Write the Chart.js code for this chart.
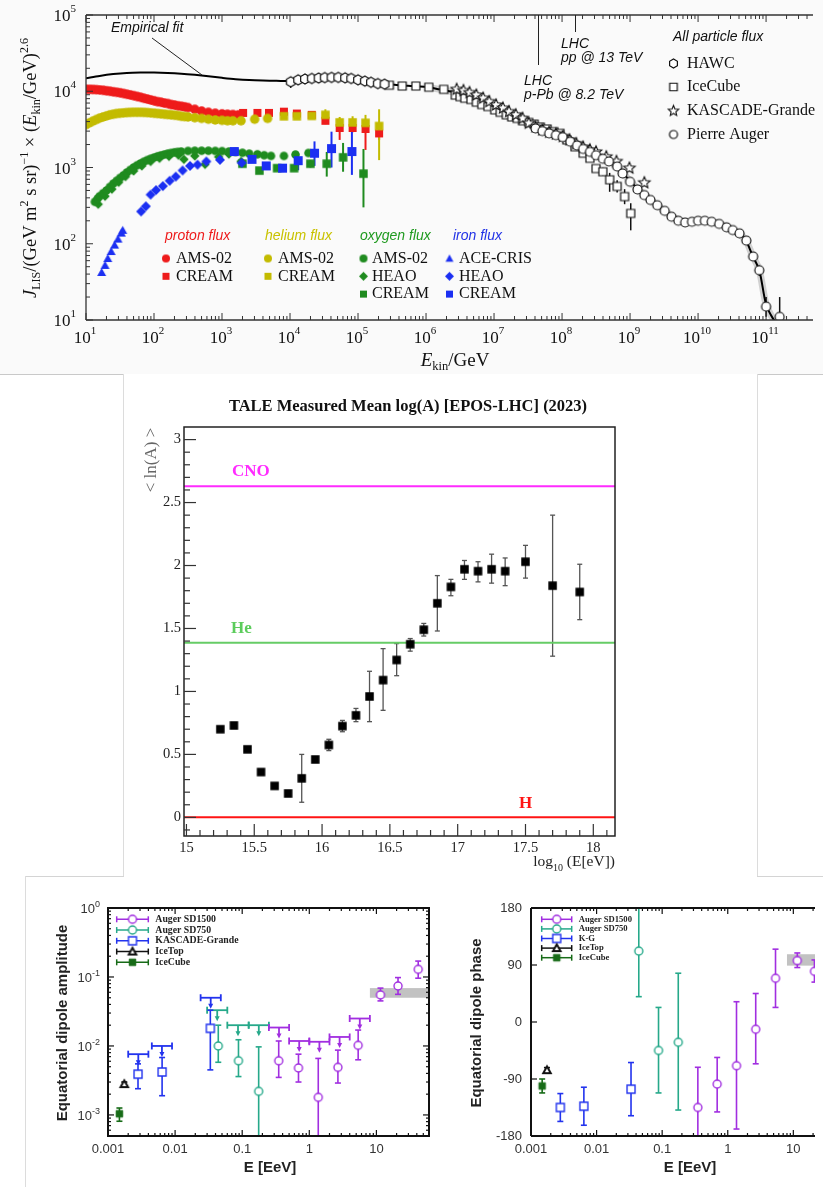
<!DOCTYPE html>
<html>
<head>
<meta charset="utf-8">
<title>Cosmic ray flux, composition and dipole</title>
<script src="https://cdn.jsdelivr.net/npm/chart.js@4.4.0/dist/chart.umd.min.js"></script>
<style>
  body { margin: 0; width: 823px; height: 1187px; position: relative; overflow: hidden; background: #fff; }
  canvas { position: absolute; }
  .rule { position: absolute; background: #c9c9c9; }
</style>
</head>
<body>
<canvas id="flux" width="823" height="374" style="left:0;top:0"></canvas>
<canvas id="tale" width="633" height="501" style="left:124px;top:375px"></canvas>
<canvas id="amp" width="411" height="310" style="left:26px;top:877px"></canvas>
<canvas id="phase" width="386" height="310" style="left:437px;top:877px"></canvas>
<div class="rule" style="left:0;top:374px;width:124px;height:1px"></div>
<div class="rule" style="left:123px;top:374px;width:1px;height:503px;background:#dcdcdc"></div>
<div class="rule" style="left:757px;top:374px;width:66px;height:1px"></div>
<div class="rule" style="left:757px;top:374px;width:1px;height:503px;background:#dcdcdc"></div>
<div class="rule" style="left:25px;top:876px;width:99px;height:1px;background:#d4d4d4"></div>
<div class="rule" style="left:25px;top:876px;width:1px;height:311px;background:#dcdcdc"></div>
<div class="rule" style="left:757px;top:876px;width:66px;height:1px;background:#d4d4d4"></div>
<script>
// ---------- top panel: all particle and LIS fluxes, [log10 E/GeV, flux*E^2.6, lo, hi] ----------
const fitCurve = [[1.0,14.8e3],[1.2,15.9e3],[1.4,16.8e3],[1.6,17.4e3],[1.8,17.6e3],[2.0,17.6e3],[2.2,17.4e3],[2.4,17.0e3],[2.6,16.4e3],[2.8,15.7e3],[3.0,15.0e3],[3.2,14.4e3],[3.4,14.0e3],[3.6,13.8e3],[3.8,13.7e3],[4.0,13.6e3],[4.2,14.3e3],[4.4,14.9e3],[4.6,15.1e3],[4.8,15.0e3],[5.0,14.2e3],[5.2,13.2e3],[5.4,12.5e3],[5.6,12.0e3],[5.8,11.7e3],[6.0,11.4e3],[6.2,10.6e3],[6.4,9.8e3],[6.6,8.7e3],[6.8,7.6e3],[7.0,6.4e3],[7.2,5.4e3],[7.4,4.5e3],[7.6,3.5e3],[7.8,3.0e3],[8.0,2.6e3],[8.2,2.05e3],[8.4,1.65e3],[8.6,1.35e3],[8.8,1.05e3],[9.0,660],[9.2,445],[9.4,320],[9.6,235],[9.8,195],[10.0,198],[10.2,196],[10.4,172],[10.5,152],[10.6,136],[10.7,112],[10.8,70],[10.9,45],[11.0,16],[11.1,10.5],[11.2,8]];
const hawcFlux = [[4.01,13.3e3,11.0e3,14.6e3],[4.12,14.1e3,13.0e3,15.2e3],[4.22,14.5e3,13.6e3,15.5e3],[4.32,14.7e3,13.8e3,15.7e3],[4.42,14.9e3,14.0e3,15.9e3],[4.51,15.1e3,14.2e3,16.1e3],[4.61,15.2e3,14.3e3,16.2e3],[4.71,15.2e3,14.3e3,16.2e3],[4.81,15.0e3,14.0e3,16.1e3],[4.90,14.7e3,13.7e3,15.8e3],[5.00,14.1e3,13.1e3,15.2e3],[5.10,13.6e3,12.6e3,14.7e3],[5.19,13.1e3,12.0e3,14.3e3],[5.29,12.6e3,11.4e3,13.9e3],[5.39,12.4e3,11.0e3,13.9e3]];
const iceCubeFlux = [[5.46,12.0e3],[5.65,11.7e3],[5.85,11.7e3],[6.04,11.3e3],[6.26,10.6e3],[6.43,8.9e3],[6.50,8.5e3],[6.57,8.1e3],[6.66,7.8e3],[6.74,7.2e3],[6.82,6.7e3],[6.91,6.3e3],[7.01,5.7e3],[7.09,5.3e3],[7.18,4.9e3],[7.26,4.6e3],[7.34,4.4e3],[7.42,4.1e3],[7.51,3.9e3],[7.59,3.7e3],[7.68,3.4e3],[7.78,3.2e3],[7.88,2.95e3],[7.97,2.8e3],[8.07,2.3e3],[8.19,1.87e3],[8.31,1.54e3],[8.41,1.32e3],[8.50,970,880,1080],[8.60,880,780,990],[8.70,690,480,850],[8.81,565,470,680],[8.92,415,330,520],[9.01,250,150,340]];
const kascadeFlux = [[6.45,10.6e3],[6.55,10.2e3],[6.64,9.6e3],[6.74,8.9e3],[6.84,8.1e3],[6.93,7.3e3],[7.03,6.6e3],[7.13,6.0e3],[7.22,5.4e3],[7.32,4.9e3],[7.42,4.4e3],[7.51,3.8e3],[7.61,3.4e3],[7.71,3.1e3],[7.81,2.9e3],[7.91,2.75e3],[8.01,2.55e3],[8.11,2.3e3],[8.21,2.05e3],[8.31,1.85e3],[8.41,1.7e3],[8.50,1.6e3],[8.65,1.38e3],[8.80,1.2e3],[8.99,980],[9.21,630]];
const augerFlux = [[7.61,3.25e3],[7.71,3.0e3],[7.81,2.8e3],[7.91,2.65e3],[8.01,2.5e3],[8.12,2.18e3],[8.22,1.94e3],[8.31,1.75e3],[8.41,1.6e3],[8.50,1.45e3],[8.60,1.3e3],[8.69,1.2e3],[8.81,1.03e3],[8.89,835],[9.00,650],[9.11,515],[9.21,435],[9.30,375],[9.40,320],[9.51,270],[9.61,226],[9.71,200],[9.81,190],[9.91,194],[10.0,200],[10.1,200],[10.2,194],[10.31,182],[10.42,164],[10.51,151],[10.61,137],[10.71,110],[10.81,68,60,76],[10.90,45,38,52],[11.0,15,11,20],[11.2,11,8,20]];
const protonAms = [[1.00,10.6e3],[1.05,10.6e3],[1.10,10.55e3],[1.15,10.5e3],[1.20,10.4e3],[1.25,10.3e3],[1.30,10.15e3],[1.35,10.0e3],[1.40,9.85e3],[1.45,9.7e3],[1.50,9.55e3],[1.55,9.35e3],[1.60,9.15e3],[1.65,8.95e3],[1.70,8.75e3],[1.75,8.55e3],[1.80,8.35e3],[1.85,8.1e3],[1.90,7.9e3],[1.95,7.7e3],[2.00,7.5e3],[2.05,7.3e3],[2.10,7.2e3],[2.15,7.0e3],[2.20,6.9e3],[2.25,6.7e3],[2.30,6.6e3],[2.35,6.45e3],[2.40,6.35e3],[2.45,6.25e3],[2.50,6.1e3],[2.60,5.8e3],[2.70,5.5e3],[2.80,5.3e3],[2.90,5.15e3],[3.00,5.05e3],[3.08,5.0e3],[3.16,4.95e3],[3.24,4.9e3]];
const protonCream = [[3.31,5.2e3],[3.52,5.2e3],[3.69,5.2e3],[3.91,5.4e3],[4.10,5.1e3],[4.32,4.9e3],[4.52,4.1e3,3.7e3,4.6e3],[4.73,3.3e3,2.3e3,3.9e3],[4.92,3.3e3,2.9e3,3.8e3],[5.11,3.2e3,1.7e3,3.8e3],[5.31,2.8e3,2.3e3,3.3e3]];
const heliumAms = [[1.00,3.65e3],[1.05,3.85e3],[1.10,4.05e3],[1.15,4.25e3],[1.20,4.45e3],[1.25,4.6e3],[1.30,4.75e3],[1.35,4.9e3],[1.40,5.0e3],[1.45,5.1e3],[1.50,5.15e3],[1.55,5.2e3],[1.60,5.25e3],[1.65,5.28e3],[1.70,5.3e3],[1.75,5.3e3],[1.80,5.3e3],[1.85,5.28e3],[1.90,5.25e3],[1.95,5.2e3],[2.00,5.15e3],[2.05,5.1e3],[2.10,5.05e3],[2.15,5.0e3],[2.20,4.95e3],[2.25,4.9e3],[2.30,4.85e3],[2.35,4.8e3],[2.40,4.7e3],[2.45,4.65e3],[2.50,4.6e3],[2.60,4.5e3],[2.70,4.4e3],[2.80,4.3e3],[2.90,4.2e3],[3.00,4.15e3],[3.08,4.1e3],[3.16,4.1e3],[3.28,4.1e3],[3.48,4.3e3],[3.67,4.4e3]];
const heliumCream = [[3.91,4.7e3],[4.10,4.7e3],[4.32,4.75e3],[4.52,4.9e3,4.0e3,5.8e3],[4.73,3.9e3,3.3e3,4.6e3],[4.92,3.9e3,3.3e3,4.7e3],[5.11,3.85e3,3.0e3,4.9e3],[5.31,3.5e3,1.25e3,5.8e3]];
const oxygenAms = [[1.13,355],[1.17,390],[1.20,420],[1.25,460],[1.30,500],[1.35,555],[1.40,615],[1.45,670],[1.50,730],[1.55,790],[1.60,860],[1.65,930],[1.70,1000],[1.75,1070],[1.80,1130],[1.85,1190],[1.90,1250],[1.95,1300],[2.00,1350],[2.05,1400],[2.10,1440],[2.15,1480],[2.20,1520],[2.25,1550],[2.30,1580],[2.35,1600],[2.40,1620],[2.50,1650],[2.60,1660],[2.70,1660],[2.80,1660],[2.90,1650],[3.00,1640],[3.10,1620],[3.20,1600],[3.30,1560],[3.40,1520],[3.52,1490],[3.62,1450],[3.72,1420],[3.91,1420],[4.08,1480],[4.27,1550]];
const oxygenHeao = [[1.18,330],[1.28,420],[1.38,520],[1.48,640],[1.58,760],[1.70,900],[1.82,1050],[1.95,1200],[2.08,1320],[2.22,1400],[2.36,1450],[2.44,1280],[2.60,1420],[2.75,1100],[2.95,1380],[3.10,1500],[3.28,1200]];
const oxygenCream = [[3.30,1120],[3.55,910],[3.81,980],[4.06,980,900,1080],[4.30,1120,1000,1250],[4.54,1120,760,1600],[4.78,1360,880,2100],[5.08,830,300,1750]];
const ironAce = [[1.23,42],[1.28,52],[1.32,64],[1.37,79],[1.42,96],[1.47,115],[1.52,138],[1.54,150]];
const ironHeao = [[1.81,265],[1.88,310],[1.95,440],[2.03,505],[2.13,570],[2.23,670],[2.32,760],[2.42,915],[2.53,1050],[2.64,1090],[2.77,1200],[2.97,1260],[3.29,1150]];
const ironCream = [[3.18,1620],[3.44,1280],[3.65,1050],[3.89,980,870,1100],[4.12,1230,920,1550],[4.36,1540,1050,2200],[4.61,1770,1000,2950],[4.91,1620,800,3100]];
const fluxXDecades = [1,2,3,4,5,6,7,8,9,10,11];
const fluxYDecades = [1,2,3,4,5];

// ---------- middle panel: TALE <ln A> ----------
const taleLogE = [15.25,15.35,15.45,15.55,15.65,15.75,15.85,15.95,16.05,16.15,16.25,16.35,16.45,16.55,16.65,16.75,16.85,16.95,17.05,17.15,17.25,17.35,17.5,17.7,17.9];
const taleLnA  = [0.70,0.73,0.54,0.36,0.25,0.19,0.31,0.46,0.575,0.725,0.81,0.96,1.09,1.25,1.375,1.49,1.70,1.83,1.97,1.955,1.97,1.955,2.03,1.84,1.79];
const taleLo   = [null,null,null,null,null,null,0.12,null,0.53,0.68,0.76,0.76,0.85,1.125,1.32,1.44,1.48,1.76,1.89,1.87,1.86,1.84,1.90,1.28,1.57];
const taleHi   = [null,null,null,null,null,null,0.50,null,0.62,0.77,0.865,1.16,1.34,1.38,1.42,1.54,1.92,1.89,2.04,2.03,2.09,2.06,2.16,2.40,2.01];
const massLines = [['CNO', 2.63], ['He', 1.386], ['H', 0]];
const taleXTicks = [15, 15.5, 16, 16.5, 17, 17.5, 18];
const taleYTicks = [0, 0.5, 1, 1.5, 2, 2.5, 3];

// ---------- bottom panels: equatorial dipole, E in EeV ----------
const sd1500E  = [0.35, 0.69, 1.36, 2.67, 5.35, 11.5, 21, 42];
const sd1500A  = [0.0061, 0.0048, 0.0018, 0.0049, 0.0102, 0.055, 0.074, 0.129];
const sd1500ALo = [0.0035, 0.0030, 0.0003, 0.0029, 0.0063, 0.045, 0.056, 0.096];
const sd1500AHi = [0.0118, 0.0076, 0.0066, 0.0087, 0.017, 0.069, 0.098, 0.17];
const sd1500P  = [-135, -98, -69, -11.5, 69, 97, 80, 80];
const sd1500PLo = [-200, -142, -169, -66, 23, 86, 63, 63];
const sd1500PHi = [-71.5, -56, 32, 45, 115, 109, 98, 98];
const sd1500Bins = [[0.25, 0.5], [0.5, 1], [1, 2], [2, 4], [4, 8]];
const sd1500UL = [0.0185, 0.0118, 0.0115, 0.0135, 0.025];
const sd750E   = [0.044, 0.088, 0.176];
const sd750A   = [0.010, 0.0061, 0.0022];
const sd750ALo = [0.0058, 0.0036, 0.0003];
const sd750AHi = [0.020, 0.0123, 0.0097];
const sd750P   = [112, -45, -32];
const sd750PLo = [40, -112, -139];
const sd750PHi = [200, 23, 77];
const sd750Bins = [[0.03, 0.06], [0.06, 0.125], [0.125, 0.25]];
const sd750UL  = [0.033, 0.020, 0.020];
const kgE      = [0.0028, 0.0064, 0.0335];
const kgA      = [0.0039, 0.0042, 0.018];
const kgALo    = [0.0024, 0.0019, 0.0045];
const kgAHi    = [0.0055, 0.0068, 0.033];
const kgP      = [-135, -133, -106];
const kgPLo    = [-157, -163, -148];
const kgPHi    = [-113, -103, -64];
const kgBins   = [[0.002, 0.004], [0.0045, 0.009], [0.024, 0.048]];
const kgUL     = [0.0076, 0.0100, 0.050];
const iceTopE = [0.00175], iceTopA = [0.0028], iceTopALo = [0.0026], iceTopAHi = [0.0030];
const iceTopP = [-76], iceTopPLo = [-80], iceTopPHi = [-72];
const iceCubeE = [0.00148], iceCubeA = [0.00104], iceCubeALo = [0.00081], iceCubeAHi = [0.00126];
const iceCubeP = [-101], iceCubePLo = [-112], iceCubePHi = [-90];
const ampBand = [8, 1000, 0.050, 0.069];
const phaseBand = [8, 1000, 89, 107];
const eTicks = [0.001, 0.01, 0.1, 1, 10];
const eTickText = ['0.001', '0.01', '0.1', '1', '10'];
const ampYDecades = [0, -1, -2, -3];
const phaseYTicks = [-180, -90, 0, 90, 180];

const SERIF = '"Liberation Serif","Times New Roman",serif';
const SANS = '"Liberation Sans",Arial,sans-serif';
const RED = '#ee1b1b', OLIVE = '#c3bb00', GREEN = '#1f8b1f', BLUE = '#1b2ff2';
const PURPLE = '#a12ee0', TEAL = '#26a98a', KBLUE = '#2233ee', DGREEN = '#176b17';

// small canvas images used as point styles and legend symbols
function mk(shape, s, fill, stroke, lw) {
  const c = document.createElement('canvas');
  const pad = Math.ceil(lw || 0) + 1;
  c.width = c.height = Math.ceil(s + 2 * pad);
  const g = c.getContext('2d'), m = c.width / 2, r = s / 2;
  g.beginPath();
  if (shape === 'circle') g.arc(m, m, r, 0, 2 * Math.PI);
  else if (shape === 'square') g.rect(m - r, m - r, s, s);
  else if (shape === 'diamond') { g.moveTo(m, m - r); g.lineTo(m + r, m); g.lineTo(m, m + r); g.lineTo(m - r, m); g.closePath(); }
  else if (shape === 'triangle') { g.moveTo(m, m - r); g.lineTo(m + r, m + r * 0.8); g.lineTo(m - r, m + r * 0.8); g.closePath(); }
  else if (shape === 'hex') { for (let i = 0; i < 6; i++) { const t = Math.PI / 6 + i * Math.PI / 3; g.lineTo(m + r * Math.cos(t), m + r * Math.sin(t)); } g.closePath(); }
  else if (shape === 'star') { for (let i = 0; i < 10; i++) { const t = -Math.PI / 2 + i * Math.PI / 5, rr = i % 2 ? r * 0.45 : r; g.lineTo(m + rr * Math.cos(t), m + rr * Math.sin(t)); } g.closePath(); }
  if (fill) { g.fillStyle = fill; g.fill(); }
  if (stroke) { g.strokeStyle = stroke; g.lineWidth = lw; g.stroke(); }
  return c;
}

function seg(g, x1, y1, x2, y2) { g.beginPath(); g.moveTo(x1, y1); g.lineTo(x2, y2); g.stroke(); }
function txt(g, s, x, y, font, color, align, base) {
  g.font = font; g.fillStyle = color; g.textAlign = align || 'left'; g.textBaseline = base || 'middle'; g.fillText(s, x, y);
}
// parts: [text, font, dy]
function rich(g, parts, x, y, align, color) {
  let w = 0;
  parts.forEach(p => { g.font = p[1]; w += g.measureText(p[0]).width; });
  let cx = align === 'center' ? x - w / 2 : align === 'right' ? x - w : x;
  g.textAlign = 'left'; g.textBaseline = 'alphabetic'; g.fillStyle = color || '#111';
  parts.forEach(p => { g.font = p[1]; g.fillText(p[0], cx, y + (p[2] || 0)); cx += g.measureText(p[0]).width; });
}
function logTicks(g, sc, a, maj, min, sides) {
  const horiz = sc.isHorizontal();
  const e0 = Math.floor(Math.log10(sc.min)), e1 = Math.ceil(Math.log10(sc.max));
  for (let e = e0; e <= e1; e++) for (let m = 1; m <= 9; m++) {
    const v = m * Math.pow(10, e);
    if (v < sc.min * 0.9999 || v > sc.max * 1.0001) continue;
    const p = sc.getPixelForValue(v), L = m === 1 ? maj : min;
    if (horiz) {
      if (sides.includes('b')) seg(g, p, a.bottom, p, a.bottom - L);
      if (sides.includes('t')) seg(g, p, a.top, p, a.top + L);
    } else {
      if (sides.includes('l')) seg(g, a.left, p, a.left + L, p);
      if (sides.includes('r')) seg(g, a.right, p, a.right - L, p);
    }
  }
}
function axis(type, min, max, size, vertical) {
  return {
    type, min, max, bounds: 'data',
    grid: { display: false }, border: { display: false }, ticks: { display: false },
    afterFit: s => { if (vertical) s.width = size; else s.height = size; }
  };
}
function marks(data, img, extra) {
  return Object.assign({ data, pointStyle: img, pointRadius: img.width / 2, pointHoverRadius: img.width / 2, showLine: false }, extra || {});
}
function logSeries(arr) { return arr.map(p => ({ x: Math.pow(10, p[0]), y: p[1], lo: p[2], hi: p[3] })); }
function zipSeries(xs, ys, lo, hi) { return xs.map((x, i) => ({ x, y: ys[i], lo: lo ? lo[i] : null, hi: hi ? hi[i] : null })); }
function limits(bins, vals) { return bins.map((b, i) => ({ x: Math.sqrt(b[0] * b[1]), y: vals[i], xlo: b[0], xhi: b[1] })); }
function stack(sets) { sets.forEach((d, i) => { d.order = sets.length - i; }); return sets; }

// error bars, upper limits and shaded bands, drawn under the markers
function errorBars(bands) {
  return {
    id: 'errorBars',
    beforeDatasetsDraw(chart) {
      const g = chart.ctx, a = chart.chartArea, X = chart.scales.x, Y = chart.scales.y;
      g.save();
      g.beginPath(); g.rect(a.left, a.top, a.right - a.left, a.bottom - a.top); g.clip();
      bands.forEach(b => {
        const x1 = X.getPixelForValue(b[0]), x2 = X.getPixelForValue(Math.min(b[1], X.max));
        const y1 = Y.getPixelForValue(b[2]), y2 = Y.getPixelForValue(b[3]);
        g.fillStyle = '#c2c2c2'; g.fillRect(x1, Math.min(y1, y2), x2 - x1, Math.abs(y2 - y1));
      });
      chart.data.datasets.forEach(d => {
        if (!d.errColor) return;
        g.strokeStyle = d.errColor; g.fillStyle = d.errColor; g.lineWidth = d.errWidth || 1.5;
        const cap = d.cap || 0;
        d.data.forEach(p => {
          const x = X.getPixelForValue(p.x);
          if (p.lo != null && p.hi != null) {
            const y1 = Y.getPixelForValue(p.lo), y2 = Y.getPixelForValue(p.hi);
            seg(g, x, y1, x, y2);
            if (cap) { seg(g, x - cap, y1, x + cap, y1); seg(g, x - cap, y2, x + cap, y2); }
          }
          if (p.xlo != null) {
            const y = Y.getPixelForValue(p.y), x1 = X.getPixelForValue(p.xlo), x2 = X.getPixelForValue(p.xhi);
            seg(g, x1, y, x2, y); seg(g, x1, y - 3.5, x1, y + 3.5); seg(g, x2, y - 3.5, x2, y + 3.5);
            seg(g, x, y, x, y + 8);
            g.beginPath(); g.moveTo(x - 2.5, y + 6); g.lineTo(x + 2.5, y + 6); g.lineTo(x, y + 11); g.closePath(); g.fill();
          }
        });
      });
      g.restore();
    }
  };
}

// ================= top panel =================
const M = {
  hawc: mk('hex', 10, '#fff', '#111', 1.2), iceCube: mk('square', 8, '#fff', '#111', 1.2),
  kascade: mk('star', 12, '#fff', '#111', 1.1), auger: mk('circle', 9, '#fff', '#111', 1.2),
  pAms: mk('circle', 9.5, RED), pCream: mk('square', 8, RED),
  heAms: mk('circle', 9.5, OLIVE), heCream: mk('square', 8.5, OLIVE),
  oAms: mk('circle', 8.5, GREEN), oHeao: mk('diamond', 9.5, GREEN), oCream: mk('square', 8.5, GREEN),
  feAce: mk('triangle', 9, BLUE), feHeao: mk('diamond', 10, BLUE), feCream: mk('square', 9, BLUE)
};
const L = {
  hawc: mk('hex', 9, '#fff', '#111', 1.2), iceCube: mk('square', 7.5, '#fff', '#111', 1.2),
  kascade: mk('star', 11, '#fff', '#111', 1.1), auger: mk('circle', 8, '#fff', '#111', 1.2),
  pAms: mk('circle', 8, RED), pCream: mk('square', 7, RED),
  heAms: mk('circle', 8, OLIVE), heCream: mk('square', 7, OLIVE),
  oAms: mk('circle', 8, GREEN), oHeao: mk('diamond', 9, GREEN), oCream: mk('square', 7, GREEN),
  feAce: mk('triangle', 8, BLUE), feHeao: mk('diamond', 9, BLUE), feCream: mk('square', 7, BLUE)
};

const fluxSets = stack([
  { data: logSeries(fitCurve.filter(p => p[0] >= 6)), showLine: true, pointRadius: 0, borderColor: 'rgba(0,0,0,0.16)', borderWidth: 7, tension: 0.3 },
  { data: logSeries(fitCurve), showLine: true, pointRadius: 0, borderColor: '#000', borderWidth: 2, tension: 0.3 },
  marks(logSeries(iceCubeFlux), M.iceCube, { errColor: '#111' }),
  marks(logSeries(kascadeFlux), M.kascade),
  marks(logSeries(hawcFlux), M.hawc, { errColor: '#111', errWidth: 1.2 }),
  marks(logSeries(augerFlux), M.auger, { errColor: '#111' }),
  marks(logSeries(protonAms), M.pAms),
  marks(logSeries(protonCream), M.pCream, { errColor: RED, errWidth: 2 }),
  marks(logSeries(heliumAms), M.heAms),
  marks(logSeries(heliumCream), M.heCream, { errColor: OLIVE, errWidth: 2 }),
  marks(logSeries(oxygenHeao), M.oHeao),
  marks(logSeries(oxygenAms), M.oAms),
  marks(logSeries(oxygenCream), M.oCream, { errColor: GREEN, errWidth: 2 }),
  marks(logSeries(ironAce), M.feAce),
  marks(logSeries(ironHeao), M.feHeao),
  marks(logSeries(ironCream), M.feCream, { errColor: BLUE, errWidth: 2 })
]);

const fluxDecor = {
  id: 'fluxDecor',
  beforeDraw(c) { const g = c.ctx; g.save(); g.fillStyle = '#fafafa'; g.fillRect(0, 0, c.width, c.height); g.restore(); },
  afterDraw(c) {
    const g = c.ctx, a = c.chartArea, X = c.scales.x, Y = c.scales.y;
    g.save();
    g.strokeStyle = '#333'; g.lineWidth = 1.3;
    seg(g, a.left, a.top, a.right, a.top); seg(g, a.left, a.top, a.left, a.bottom); seg(g, a.left, a.bottom, a.right, a.bottom);
    g.lineWidth = 1;
    logTicks(g, X, a, 7, 4, 'bt'); logTicks(g, Y, a, 7, 4, 'l');
    const big = '17px ' + SERIF, sup = '11px ' + SERIF;
    fluxXDecades.forEach(e => rich(g, [['10', big], [String(e), sup, -9]], X.getPixelForValue(Math.pow(10, e)) - 1, 343, 'center'));
    fluxYDecades.forEach(e => rich(g, [['10', big], [String(e), sup, -9]], 76, Y.getPixelForValue(Math.pow(10, e)) + 6, 'right'));
    // axis titles
    const t = '18.5px ' + SERIF, ti = 'italic 18.5px ' + SERIF, s = '12px ' + SERIF;
    g.save(); g.translate(36, 168); g.rotate(-Math.PI / 2);
    rich(g, [['J', ti], ['LIS', s, 4], ['/(GeV m', t], ['2', s, -8], [' s sr)', t], ['\u22121', s, -8], [' \u00d7 (', t], ['E', ti], ['kin', s, 4], ['/GeV)', t], ['2.6', s, -8]], 0, 0, 'center');
    g.restore();
    rich(g, [['E', 'italic 19px ' + SERIF], ['kin', '12.5px ' + SERIF, 4], ['/GeV', '19px ' + SERIF]], 455, 366, 'center');
    // annotations
    const it = 'italic 14px ' + SANS;
    txt(g, 'Empirical fit', 111, 28, it, '#111');
    g.strokeStyle = '#222'; g.lineWidth = 1;
    seg(g, 152, 38, 202, 75);
    seg(g, 538.5, a.top, 538.5, 65); seg(g, 575.5, a.top, 575.5, 32);
    txt(g, 'LHC', 524, 81, it, '#111'); txt(g, 'p-Pb @ 8.2 TeV', 524, 95, it, '#111');
    txt(g, 'LHC', 561, 44, it, '#111'); txt(g, 'pp @ 13 TeV', 561, 58.5, it, '#111');
    txt(g, 'All particle flux', 673, 37, it, '#111');
    const lf = '16px ' + SERIF;
    [[L.hawc, 'HAWC', 63.5], [L.iceCube, 'IceCube', 87], [L.kascade, 'KASCADE-Grande', 111], [L.auger, 'Pierre Auger', 134.5]].forEach(r => {
      g.drawImage(r[0], 673.5 - r[0].width / 2, r[2] - r[0].height / 2); txt(g, r[1], 687, r[2], lf, '#111');
    });
    const groups = [
      ['proton flux', RED, 165, 166, 176, [[L.pAms, 'AMS-02'], [L.pCream, 'CREAM']]],
      ['helium flux', '#c9c200', 265, 268, 278, [[L.heAms, 'AMS-02'], [L.heCream, 'CREAM']]],
      ['oxygen flux', '#1f9a1f', 360, 363.5, 372, [[L.oAms, 'AMS-02'], [L.oHeao, 'HEAO'], [L.oCream, 'CREAM']]],
      ['iron flux', '#2233e6', 453, 449.5, 459, [[L.feAce, 'ACE-CRIS'], [L.feHeao, 'HEAO'], [L.feCream, 'CREAM']]]
    ];
    groups.forEach(gr => {
      txt(g, gr[0], gr[2], 236.5, it, gr[1]);
      gr[5].forEach((r, i) => { const y = 258.5 + i * 17.8; g.drawImage(r[0], gr[3] - r[0].width / 2, y - r[0].height / 2); txt(g, r[1], gr[4], y, lf, '#111'); });
    });
    g.restore();
  }
};

new Chart(document.getElementById('flux'), {
  type: 'scatter',
  data: { datasets: fluxSets },
  options: {
    responsive: false, animation: false, events: [], devicePixelRatio: 1,
    layout: { padding: { top: 15, right: 0, left: 0, bottom: 0 } },
    scales: { x: axis('logarithmic', 10, Math.pow(10, 11.69), 54, false), y: axis('logarithmic', 10, 1e5, 86, true) },
    plugins: { legend: { display: false }, tooltip: { enabled: false } }
  },
  plugins: [errorBars([]), fluxDecor]
});

// ================= middle panel =================
const TALE_X = [14.982, 18.16];
const massColors = { CNO: '#ff2bff', He: '#66cc66', H: '#ff1414' };
const taleSets = stack([
  ...massLines.map(m => ({ data: [{ x: TALE_X[0], y: m[1] }, { x: TALE_X[1], y: m[1] }], showLine: true, pointRadius: 0, borderColor: massColors[m[0]], borderWidth: 2 })),
  marks(zipSeries(taleLogE, taleLnA, taleLo, taleHi), mk('square', 8.5, '#000'), { errColor: '#555', errWidth: 1.3, cap: 2.5 })
]);
const taleDecor = {
  id: 'taleDecor',
  beforeDraw(c) { const g = c.ctx; g.save(); g.fillStyle = '#fff'; g.fillRect(0, 0, c.width, c.height); g.restore(); },
  afterDraw(c) {
    const g = c.ctx, a = c.chartArea, X = c.scales.x, Y = c.scales.y;
    g.save();
    g.strokeStyle = '#222'; g.lineWidth = 1.5;
    g.strokeRect(a.left, a.top, a.right - a.left, a.bottom - a.top);
    g.lineWidth = 1.2; g.strokeStyle = '#333';
    for (let i = -1; i <= 30; i++) { const p = Y.getPixelForValue(i / 10); seg(g, a.left, p, a.left + (i % 5 === 0 ? 12 : 6), p); }
    for (let i = 150; i <= 181; i++) { const p = X.getPixelForValue(i / 10); seg(g, p, a.bottom, p, a.bottom - (i % 5 === 0 ? 12 : 6)); }
    const f = '14.5px ' + SERIF;
    taleYTicks.forEach(v => txt(g, String(v), 57, Y.getPixelForValue(v), f, '#222', 'right'));
    taleXTicks.forEach(v => txt(g, String(v), X.getPixelForValue(v), 473, f, '#222', 'center'));
    txt(g, 'TALE Measured Mean log(A) [EPOS-LHC] (2023)', 284, 32, 'bold 16.5px ' + SERIF, '#111', 'center');
    g.save(); g.translate(28, 85); g.rotate(-Math.PI / 2);
    txt(g, '< ln(A) >', 0, 0, '17px ' + SERIF, '#666', 'center'); g.restore();
    rich(g, [['log', '15.5px ' + SERIF], ['10', '10px ' + SERIF, 5], [' (E[eV])', '15.5px ' + SERIF]], 491, 491, 'right', '#222');
    const lb = 'bold 17px ' + SERIF;
    txt(g, 'CNO', 108, 97, lb, massColors.CNO); txt(g, 'He', 107, 254, lb, '#5ccc5c'); txt(g, 'H', 395, 429, lb, massColors.H);
    g.restore();
  }
};
new Chart(document.getElementById('tale'), {
  type: 'scatter',
  data: { datasets: taleSets },
  options: {
    responsive: false, animation: false, events: [], devicePixelRatio: 1,
    layout: { padding: { top: 52, right: 142, left: 0, bottom: 0 } },
    scales: { x: axis('linear', TALE_X[0], TALE_X[1], 40, false), y: axis('linear', -0.148, 3.1, 60, true) },
    plugins: { legend: { display: false }, tooltip: { enabled: false } }
  },
  plugins: [errorBars([]), taleDecor]
});

// ================= bottom panels =================
const D = {
  sd1500: mk('circle', 8, '#fff', PURPLE, 1.4), sd750: mk('circle', 8, '#fff', TEAL, 1.4),
  kg: mk('square', 8, '#fff', KBLUE, 1.4), iceTop: mk('triangle', 7.5, '#fff', '#111', 2),
  iceCube: mk('square', 6.5, DGREEN, DGREEN, 1)
};
const legendRows = [
  ['Auger SD1500', PURPLE, D.sd1500], ['Auger SD750', TEAL, D.sd750], ['KASCADE-Grande', KBLUE, D.kg],
  ['IceTop', '#111', D.iceTop], ['IceCube', DGREEN, D.iceCube]
];
function legendRow(g, x1, x2, y, color, img, label, font) {
  g.strokeStyle = color; g.lineWidth = 1.5;
  seg(g, x1, y, x2, y); seg(g, x1, y - 3, x1, y + 3); seg(g, x2, y - 3, x2, y + 3);
  g.drawImage(img, (x1 + x2) / 2 - img.width / 2, y - img.height / 2);
  txt(g, label, x2 + 7, y, font, '#222');
}
const eb = { errWidth: 1.6, cap: 3 };

const ampSets = stack([
  { data: limits(kgBins, kgUL), pointRadius: 0, errColor: KBLUE, errWidth: 1.8 },
  { data: limits(sd750Bins, sd750UL), pointRadius: 0, errColor: TEAL, errWidth: 1.8 },
  { data: limits(sd1500Bins, sd1500UL), pointRadius: 0, errColor: PURPLE, errWidth: 1.8 },
  marks(zipSeries(iceCubeE, iceCubeA, iceCubeALo, iceCubeAHi), D.iceCube, Object.assign({ errColor: DGREEN }, eb)),
  marks(zipSeries(iceTopE, iceTopA, iceTopALo, iceTopAHi), D.iceTop, Object.assign({ errColor: '#111' }, eb)),
  marks(zipSeries(kgE, kgA, kgALo, kgAHi), D.kg, Object.assign({ errColor: KBLUE }, eb)),
  marks(zipSeries(sd750E, sd750A, sd750ALo, sd750AHi), D.sd750, Object.assign({ errColor: TEAL }, eb)),
  marks(zipSeries(sd1500E, sd1500A, sd1500ALo, sd1500AHi), D.sd1500, Object.assign({ errColor: PURPLE }, eb))
]);
const ampDecor = {
  id: 'ampDecor',
  beforeDraw(c) { const g = c.ctx; g.save(); g.fillStyle = '#fff'; g.fillRect(0, 0, c.width, c.height); g.restore(); },
  afterDraw(c) {
    const g = c.ctx, a = c.chartArea, X = c.scales.x, Y = c.scales.y;
    g.save();
    g.strokeStyle = '#111'; g.lineWidth = 2;
    g.strokeRect(a.left, a.top, a.right - a.left, a.bottom - a.top);
    g.lineWidth = 1.2;
    logTicks(g, X, a, 6, 3, 'bt'); logTicks(g, Y, a, 6, 3, 'lr');
    const f = '13px ' + SANS;
    eTicks.forEach((v, i) => txt(g, eTickText[i], X.getPixelForValue(v), 272, f, '#333', 'center'));
    ampYDecades.forEach(e => rich(g, [['10', f], [String(e), '9px ' + SANS, -6]], 74, Y.getPixelForValue(Math.pow(10, e)) + 5, 'right', '#333'));
    g.save(); g.translate(37, 146); g.rotate(-Math.PI / 2);
    txt(g, 'Equatorial dipole amplitude', 0, 0, 'bold 15px ' + SANS, '#222', 'center'); g.restore();
    txt(g, 'E [EeV]', 244, 291, 'bold 15px ' + SANS, '#222', 'center');
    legendRows.forEach((r, i) => legendRow(g, 90.7, 122.3, 42.3 + i * 10.75, r[1], r[2], r[0], 'bold 9.8px ' + SERIF));
    g.restore();
  }
};
new Chart(document.getElementById('amp'), {
  type: 'scatter',
  data: { datasets: ampSets },
  options: {
    responsive: false, animation: false, events: [], devicePixelRatio: 1,
    layout: { padding: { top: 31, right: 1, left: 0, bottom: 0 } },
    scales: { x: axis('logarithmic', 0.001, 60.8, 51, false), y: axis('logarithmic', 4.95e-4, 1, 82, true) },
    plugins: { legend: { display: false }, tooltip: { enabled: false } }
  },
  plugins: [errorBars([ampBand]), ampDecor]
});

const phaseSets = stack([
  marks(zipSeries(iceCubeE, iceCubeP, iceCubePLo, iceCubePHi), D.iceCube, Object.assign({ errColor: DGREEN }, eb)),
  marks(zipSeries(iceTopE, iceTopP, iceTopPLo, iceTopPHi), D.iceTop, Object.assign({ errColor: '#111' }, eb)),
  marks(zipSeries(kgE, kgP, kgPLo, kgPHi), D.kg, Object.assign({ errColor: KBLUE }, eb)),
  marks(zipSeries(sd750E, sd750P, sd750PLo, sd750PHi), D.sd750, Object.assign({ errColor: TEAL }, eb)),
  marks(zipSeries(sd1500E, sd1500P, sd1500PLo, sd1500PHi), D.sd1500, Object.assign({ errColor: PURPLE }, eb))
]);
const phaseDecor = {
  id: 'phaseDecor',
  beforeDraw(c) { const g = c.ctx; g.save(); g.fillStyle = '#fff'; g.fillRect(0, 0, c.width, c.height); g.restore(); },
  afterDraw(c) {
    const g = c.ctx, a = c.chartArea, X = c.scales.x, Y = c.scales.y;
    g.save();
    g.strokeStyle = '#111'; g.lineWidth = 2;
    seg(g, a.left, a.top, a.right, a.top); seg(g, a.left, a.top, a.left, a.bottom); seg(g, a.left, a.bottom, a.right, a.bottom);
    g.lineWidth = 1.2;
    logTicks(g, X, a, 6, 3, 'bt');
    phaseYTicks.forEach(v => seg(g, a.left, Y.getPixelForValue(v), a.left + 6, Y.getPixelForValue(v)));
    const f = '13px ' + SANS;
    eTicks.forEach((v, i) => txt(g, eTickText[i], X.getPixelForValue(v), 272, f, '#333', 'center'));
    phaseYTicks.forEach(v => txt(g, String(v), 85, Y.getPixelForValue(v), f, '#333', 'right'));
    g.save(); g.translate(40, 146); g.rotate(-Math.PI / 2);
    txt(g, 'Equatorial dipole phase', 0, 0, 'bold 15px ' + SANS, '#222', 'center'); g.restore();
    txt(g, 'E [EeV]', 253, 291, 'bold 15px ' + SANS, '#222', 'center');
    legendRows.forEach((r, i) => legendRow(g, 104.7, 134.7, 42.3 + i * 9.6, r[1], r[2], i === 2 ? 'K-G' : r[0], 'bold 8.6px ' + SERIF));
    g.restore();
  }
};
new Chart(document.getElementById('phase'), {
  type: 'scatter',
  data: { datasets: phaseSets },
  options: {
    responsive: false, animation: false, events: [], devicePixelRatio: 1,
    layout: { padding: { top: 31, right: 0, left: 0, bottom: 0 } },
    scales: { x: axis('logarithmic', 0.001, 21.4, 51, false), y: axis('linear', -180, 180, 94, true) },
    plugins: { legend: { display: false }, tooltip: { enabled: false } }
  },
  plugins: [errorBars([phaseBand]), phaseDecor]
});
</script>
</body>
</html>
